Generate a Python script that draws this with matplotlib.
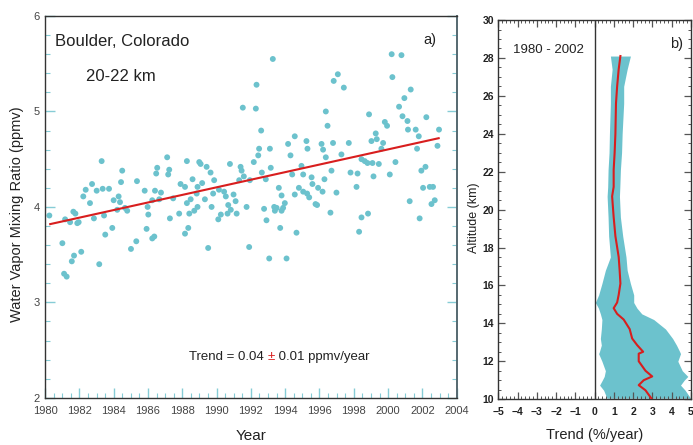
import matplotlib
matplotlib.use("Agg")
import matplotlib.pyplot as plt
from matplotlib.ticker import MultipleLocator

# ---------------- data: panel a) ----------------
years = [1980.25, 1981.01, 1981.11, 1981.26, 1981.17, 1981.46, 1981.56, 1981.69, 1981.65, 1981.77,
         1981.88, 1981.96, 1982.11, 1982.23, 1982.37, 1982.62, 1982.74, 1982.85, 1983.01, 1983.16,
         1983.30, 1983.36, 1983.44, 1983.51, 1983.73, 1983.92, 1984.00, 1984.21, 1984.29, 1984.37,
         1984.43, 1984.50, 1984.66, 1984.79, 1985.01, 1985.32, 1985.36, 1985.81, 1985.92, 1986.02,
         1985.98, 1986.25, 1986.25, 1986.37, 1986.41, 1986.48, 1986.54, 1986.66, 1986.76, 1987.12,
         1987.18, 1987.24, 1987.28, 1987.47, 1987.82, 1987.90, 1988.16, 1988.16, 1988.27, 1988.27,
         1988.35, 1988.41, 1988.49, 1988.60, 1988.70, 1988.84, 1988.89, 1988.89, 1988.99, 1989.07,
         1989.16, 1989.32, 1989.42, 1989.51, 1989.65, 1989.71, 1989.80, 1989.86, 1990.10, 1990.14,
         1990.25, 1990.44, 1990.54, 1990.64, 1990.68, 1990.78, 1990.83, 1990.99, 1991.11, 1991.17,
         1991.32, 1991.40, 1991.46, 1991.53, 1991.59, 1991.75, 1991.90, 1991.94, 1992.17, 1992.29,
         1992.33, 1992.43, 1992.48, 1992.60, 1992.64, 1992.77, 1992.87, 1992.91, 1993.07, 1993.11,
         1993.16, 1993.28, 1993.36, 1993.40, 1993.50, 1993.63, 1993.71, 1993.79, 1993.79, 1993.88,
         1993.98, 1994.08, 1994.17, 1994.31, 1994.41, 1994.56, 1994.56, 1994.66, 1994.80, 1994.95,
         1995.05, 1995.05, 1995.24, 1995.28, 1995.30, 1995.40, 1995.54, 1995.59, 1995.77, 1995.86,
         1995.92, 1996.12, 1996.18, 1996.21, 1996.29, 1996.37, 1996.37, 1996.47, 1996.64, 1996.70,
         1996.79, 1996.83, 1996.99, 1997.07, 1997.28, 1997.42, 1997.71, 1997.81, 1998.16, 1998.22,
         1998.31, 1998.45, 1998.45, 1998.64, 1998.80, 1998.83, 1998.89, 1999.03, 1999.09, 1999.15,
         1999.28, 1999.34, 1999.46, 1999.61, 1999.71, 1999.81, 1999.94, 2000.10, 2000.21, 2000.25,
         2000.43, 2000.64, 2000.78, 2000.84, 2000.95, 2001.13, 2001.16, 2001.26, 2001.32, 2001.61,
         2001.69, 2001.79, 2001.84, 2001.94, 2002.04, 2002.18, 2002.23, 2002.43, 2002.53, 2002.62,
         2002.72, 2002.88, 2002.97]
water_vapor = [3.91, 3.62, 3.30, 3.27, 3.87, 3.84, 3.43, 3.49, 3.95, 3.93,
               3.83, 3.84, 3.53, 4.11, 4.18, 4.04, 4.24, 3.88, 4.17, 3.40,
               4.48, 4.19, 3.91, 3.71, 4.19, 3.78, 4.07, 3.97, 4.11, 4.05,
               4.26, 4.38, 3.99, 3.96, 3.56, 3.64, 4.27, 4.17, 3.77, 3.92,
               4.00, 4.07, 3.67, 3.69, 4.17, 4.35, 4.41, 4.08, 4.15, 4.52,
               4.34, 4.39, 3.88, 4.09, 3.93, 4.24, 4.21, 3.72, 4.48, 4.04,
               3.78, 3.93, 4.08, 4.29, 3.96, 4.14, 4.21, 4.00, 4.47, 4.45,
               4.25, 4.08, 4.42, 3.57, 4.36, 4.00, 4.14, 4.28, 3.87, 4.18,
               3.92, 4.16, 4.11, 3.93, 4.02, 4.45, 3.97, 4.13, 4.06, 3.93,
               4.28, 4.42, 4.38, 5.04, 4.32, 4.00, 3.58, 4.28, 4.47, 5.03,
               5.28, 4.54, 4.61, 4.80, 4.36, 3.98, 4.29, 3.86, 3.46, 4.61,
               4.41, 5.55, 4.00, 3.96, 3.99, 4.20, 3.78, 4.12, 3.96, 3.99,
               4.04, 3.46, 4.66, 4.54, 4.34, 4.74, 4.13, 3.73, 4.20, 4.43,
               4.34, 4.16, 4.69, 4.14, 4.61, 4.10, 4.31, 4.24, 4.03, 4.02,
               4.20, 4.66, 4.16, 4.60, 4.29, 5.00, 4.52, 4.85, 3.94, 4.38,
               4.67, 5.32, 4.15, 5.39, 4.55, 5.25, 4.67, 4.36, 4.21, 4.35,
               3.74, 4.50, 3.89, 4.48, 4.46, 3.93, 4.97, 4.69, 4.46, 4.32,
               4.77, 4.71, 4.45, 4.61, 4.67, 4.89, 4.85, 4.34, 5.60, 5.36,
               4.47, 5.05, 5.59, 4.95, 5.14, 4.90, 4.81, 4.06, 5.23, 4.81,
               4.61, 4.74, 3.88, 4.38, 4.20, 4.42, 4.94, 4.21, 4.03, 4.21,
               4.07, 4.64, 4.81]
trend_line_years = [1980.3, 2002.95]
trend_line_values = [3.82, 4.72]
year_ticks = list(range(1980, 2005, 2))
wv_ticks = [2, 3, 4, 5, 6]

# ---------------- data: panel b) ----------------
altitude_km = [28.1, 27.4, 26.5, 25.6, 24.0, 23.0, 22.1, 21.2, 20.7, 19.6,
               18.6, 17.5, 16.8, 16.1, 15.5, 15.1, 14.8, 14.5, 14.2, 13.7,
               13.2, 12.85, 12.5, 12.4, 12.0, 11.5, 11.2, 11.0, 10.74, 10.47, 10.05]
trend_pct = [1.34, 1.25, 1.17, 1.11, 1.08, 1.04, 0.99, 0.99, 0.91, 0.99,
             1.08, 1.25, 1.30, 1.34, 1.25, 1.17, 0.99, 1.17, 1.51, 1.82,
             1.95, 2.21, 2.52, 2.29, 2.29, 2.64, 2.99, 2.55, 2.29, 2.64, 2.94]
trend_low = [0.82, 0.91, 0.82, 0.82, 0.77, 0.75, 0.70, 0.68, 0.65, 0.70,
             0.73, 0.82, 0.56, 0.38, 0.21, 0.04, 0.20, 0.30, 0.38, 0.35,
             0.30, 0.35, 0.25, 0.21, 0.38, 0.56, 0.50, 0.40, 0.26, 0.47, 0.64]
trend_high = [1.86, 1.69, 1.51, 1.51, 1.43, 1.40, 1.34, 1.31, 1.29, 1.34,
              1.46, 1.63, 1.69, 1.86, 2.03, 2.03, 2.20, 2.45, 3.07, 3.68,
              4.05, 4.25, 4.42, 4.46, 4.32, 4.55, 4.84, 4.65, 4.46, 4.70, 4.98]
trend_ticks = list(range(-5, 6))
alt_ticks = list(range(10, 31, 2))

# ---------------- style ----------------
CYAN = "#6cc2cd"
RED = "#d81e1e"
TICKC = "#86ccd6"
FONT = ["Liberation Sans", "DejaVu Sans"]

fig = plt.figure(figsize=(6.93, 4.45), dpi=100)

# ---------------- panel a ----------------
ax1 = fig.add_axes([0.065, 0.106, 0.594, 0.858])
ax1.scatter(years, water_vapor, s=18, color=CYAN, edgecolors="none", zorder=2)
ax1.plot(trend_line_years, trend_line_values, color=RED, lw=1.5, zorder=3)
ax1.set_xlim(1980, 2004)
ax1.set_ylim(2, 6)
ax1.set_xticks(year_ticks)
ax1.set_yticks(wv_ticks)
ax1.xaxis.set_minor_locator(MultipleLocator(0.5))
ax1.yaxis.set_minor_locator(MultipleLocator(0.2))
ax1.tick_params(which="both", direction="in", colors=TICKC, right=True, top=False,
                labelcolor="#444444")
ax1.tick_params(which="major", length=7, width=1)
ax1.tick_params(which="minor", length=3.5, width=0.8)
ax1.tick_params(axis="x", pad=6)
ax1.tick_params(axis="y", pad=4)
for lab in ax1.get_xticklabels() + ax1.get_yticklabels():
    lab.set_family(FONT)
    lab.set_fontsize(8)
for side in ["left", "bottom", "top", "right"]:
    ax1.spines[side].set_color("#333333")
    ax1.spines[side].set_linewidth(1.0)
ax1.spines["right"].set_color("#556870")
ax1.spines["right"].set_linewidth(1.4)

ax1.set_xlabel("Year", family=FONT, fontsize=11, color="#222222")
ax1.xaxis.set_label_coords(0.5, -0.082)
ax1.set_ylabel("Water Vapor Mixing Ratio (ppmv)", family=FONT, fontsize=10.5, color="#222222")
ax1.yaxis.set_label_coords(-0.05, 0.48)

ax1.text(1980.58, 5.69, "Boulder, Colorado", family=FONT, fontsize=12, color="#222222",
         va="baseline", ha="left")
ax1.text(1982.39, 5.32, "20-22 km", family=FONT, fontsize=12, color="#222222",
         va="baseline", ha="left")
ax1.text(2002.04, 5.71, "a)", family=FONT, fontsize=10.5, color="#222222",
         va="baseline", ha="left")
t1 = ax1.text(1988.39, 2.40, "Trend = 0.04 ", family=FONT, fontsize=9.5, color="#222222",
              va="baseline", ha="left")
t2 = ax1.annotate("\u00b1", xy=(1, 0), xycoords=t1, family=FONT, fontsize=9.5, color=RED,
                  va="bottom", ha="left")
ax1.annotate(" 0.01 ppmv/year", xy=(1, 0), xycoords=t2, family=FONT, fontsize=9.5,
             color="#222222", va="bottom", ha="left")

# ---------------- panel b ----------------
ax2 = fig.add_axes([0.719, 0.103, 0.278, 0.852])
ax2.fill_betweenx(altitude_km, trend_low, trend_high, color=CYAN, lw=0, zorder=1)
ax2.plot(trend_pct, altitude_km, color=RED, lw=1.5, zorder=3)
ax2.axvline(0, color="#333333", lw=1.0, zorder=2)
ax2.set_xlim(-5, 5)
ax2.set_ylim(10, 30)
ax2.set_xticks(trend_ticks)
ax2.set_xticklabels([("\u2212%d" % abs(v)) if v < 0 else str(v) for v in trend_ticks])
ax2.set_yticks(alt_ticks)
ax2.xaxis.set_minor_locator(MultipleLocator(0.2))
ax2.yaxis.set_minor_locator(MultipleLocator(0.5))
ax2.tick_params(which="both", direction="in", top=True, right=True, colors="#555555",
                labelcolor="#222222")
ax2.tick_params(which="major", length=5, width=0.9)
ax2.tick_params(which="minor", length=2.5, width=0.7)
ax2.tick_params(axis="x", pad=6)
ax2.tick_params(axis="y", pad=3)
for lab in ax2.get_xticklabels() + ax2.get_yticklabels():
    lab.set_family(FONT)
    lab.set_fontsize(7.5)
    lab.set_fontweight("bold")
for side in ["left", "bottom", "top", "right"]:
    ax2.spines[side].set_color("#333333")
    ax2.spines[side].set_linewidth(1.0)

ax2.set_xlabel("Trend (%/year)", family=FONT, fontsize=10.5, color="#222222")
ax2.xaxis.set_label_coords(0.5, -0.075)
ax2.set_ylabel("Altitude (km)", family=FONT, fontsize=9, color="#222222")
ax2.yaxis.set_label_coords(-0.095, 0.478)

ax2.text(-4.22, 28.27, "1980 - 2002", family=FONT, fontsize=9.5, color="#222222",
         va="baseline", ha="left")
ax2.text(3.92, 28.5, "b)", family=FONT, fontsize=10.5, color="#222222",
         va="baseline", ha="left")

fig.savefig("out.png", dpi=100)
